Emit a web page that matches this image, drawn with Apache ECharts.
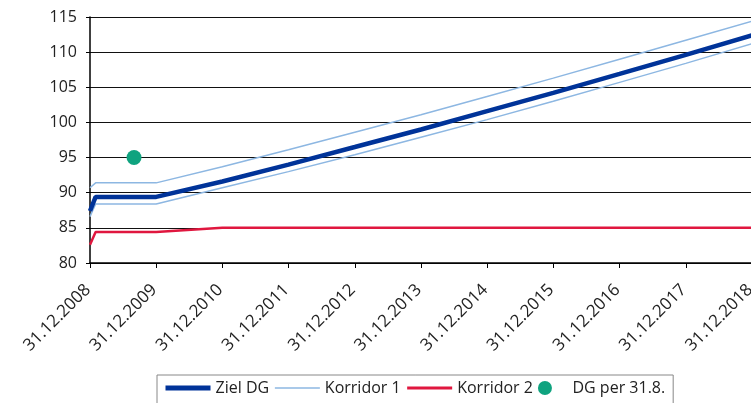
<!DOCTYPE html>
<html>
<head>
<meta charset="utf-8">
<script src="https://cdn.jsdelivr.net/npm/echarts@6/dist/echarts.min.js"></script>
<style>html,body{margin:0;padding:0;background:#fff;}#c{width:751px;height:403px;}</style>
</head>
<body>
<div id="c"></div>
<script>
// Dates of the data points
var dates = ['2008-12-31','2009-01-31','2009-12-31','2010-12-31','2011-12-31','2012-12-31','2013-12-31','2014-12-31','2015-12-31','2016-12-31','2017-12-31','2018-12-31'];
var zielDG     = [87.4, 89.4, 89.4, 91.6, 94.0, 96.5, 99.0, 101.6, 104.2, 106.9, 109.6, 112.4];
var korridor1o = [90.7, 91.4, 91.4, 93.7, 96.1, 98.6, 101.1, 103.7, 106.3, 109.0, 111.7, 114.4];
var korridor1u = [86.6, 88.4, 88.4, 90.7, 93.0, 95.4, 97.9, 100.4, 103.0, 105.7, 108.4, 111.2];
var korridor2  = [82.6, 84.4, 84.4, 85.0, 85.0, 85.0, 85.0, 85.0, 85.0, 85.0, 85.0, 85.0];
var dgDate = ['2009-08-31'];
var dgValue = [95.0];
var tickYears = [2008,2009,2010,2011,2012,2013,2014,2015,2016,2017,2018];

var base = Date.parse('2008-12-31');
var YEAR = 365.25 * 864e5;
function xOf(d){ return (Date.parse(d) - base) / YEAR; }
function pairs(ds, vs){ return ds.map(function(d,i){ return [xOf(d), vs[i]]; }); }

var FONT = '"Open Sans", "DejaVu Sans", sans-serif';
var chart = echarts.init(document.getElementById('c'));
chart.setOption({
  animation: false,
  backgroundColor: '#fff',
  grid: { left: 90, right: -1, top: 17, bottom: 140, containLabel: false, outerBoundsMode: 'none' },
  xAxis: {
    type: 'value', min: 0, max: 10, interval: 1,
    axisLine: { show: true, lineStyle: { color: '#000', width: 1.5 } },
    axisTick: { show: true, length: 5, lineStyle: { color: '#000' } },
    splitLine: { show: false },
    axisLabel: {
      rotate: 45, fontSize: 17, color: '#222', fontFamily: FONT, margin: 22,
      padding: [0, 3, 0, 0],
      hideOverlap: false, showMinLabel: true, showMaxLabel: true,
      formatter: function(v){ return '31.12.' + tickYears[Math.round(v)]; }
    }
  },
  yAxis: {
    type: 'value', min: 80, max: 115, interval: 5,
    axisLine: { show: true, lineStyle: { color: '#000', width: 1.5 } },
    axisTick: { show: true, length: 4, lineStyle: { color: '#000' } },
    splitLine: { show: true, lineStyle: { color: '#111', width: 1 } },
    axisLabel: { fontSize: 16, color: '#222', fontFamily: FONT, margin: 13 }
  },
  legend: {
    left: 157, top: 375, width: 526,
    padding: [5, 8, 10, 6],
    borderColor: '#888', borderWidth: 1,
    itemWidth: 45, itemHeight: 14, itemGap: 5,
    textStyle: { fontSize: 16, color: '#222', fontFamily: FONT },
    data: [
      { name: 'Ziel DG', itemStyle: { opacity: 0 }, lineStyle: { width: 5 } },
      { name: 'Korridor 1', itemStyle: { opacity: 0 }, lineStyle: { width: 1.5 } },
      { name: 'Korridor 2', itemStyle: { opacity: 0 }, lineStyle: { width: 3 } },
      { name: 'DG per 31.8.', icon: 'circle', itemStyle: { opacity: 1 } }
    ]
  },
  series: [
    { name: 'Ziel DG', type: 'line', data: pairs(dates, zielDG), symbol: 'none', z: 5,
      lineStyle: { color: '#003399', width: 4.5 }, itemStyle: { color: '#003399' } },
    { name: 'Korridor 1', type: 'line', data: pairs(dates, korridor1o), symbol: 'none',
      lineStyle: { color: '#8db7e2', width: 1.5 }, itemStyle: { color: '#8db7e2' } },
    { name: 'Korridor 1', type: 'line', data: pairs(dates, korridor1u), symbol: 'none',
      lineStyle: { color: '#8db7e2', width: 1.5 }, itemStyle: { color: '#8db7e2' } },
    { name: 'Korridor 2', type: 'line', data: pairs(dates, korridor2), symbol: 'none',
      lineStyle: { color: '#e0173f', width: 2.5 }, itemStyle: { color: '#e0173f' } },
    { name: 'DG per 31.8.', type: 'scatter', data: pairs(dgDate, dgValue), symbolSize: 15,
      itemStyle: { color: '#0fa37f', opacity: 1 } }
  ]
});
</script>
</body>
</html>
